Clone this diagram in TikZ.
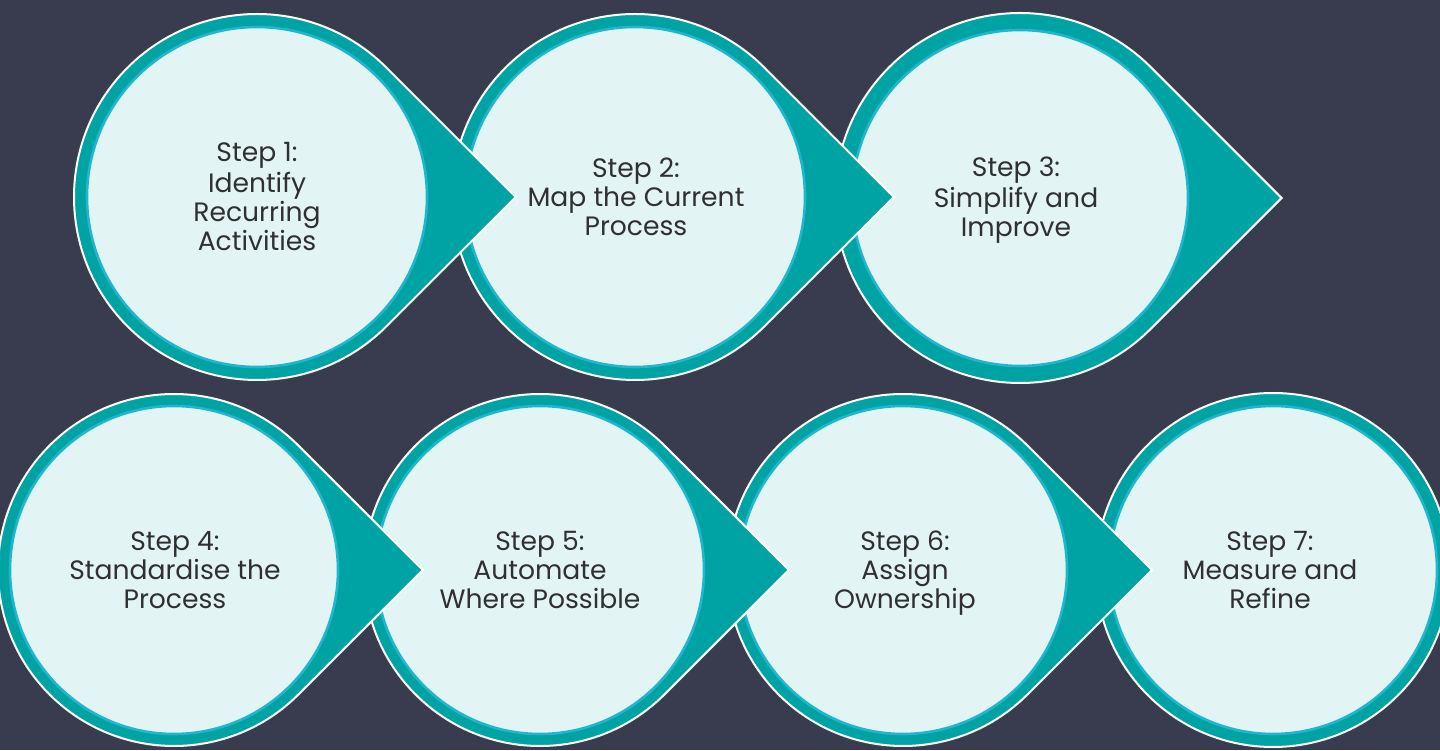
\documentclass[tikz,border=0pt]{standalone}
\usepackage{fontspec}
\setmainfont{Poppins}
\definecolor{bgc}{HTML}{393C4F}
\definecolor{stepteal}{HTML}{00A3A4}
\definecolor{ringline}{HTML}{1FB6CE}
\definecolor{discfill}{HTML}{E3F4F5}
\definecolor{txt}{HTML}{303030}

\tikzset{
  outerdrop/.style={fill=stepteal, draw=white, line width=1pt, line join=miter},
  innerdisc/.style={fill=discfill, draw=ringline, line width=1.3pt},
  steplabel/.style={align=center, text=txt, inner sep=0pt,
    font=\fontsize{13.3}{14.5}\selectfont}
}

% teardrop step: centre x, centre y, outer radius, inner radius
\newcommand\stepdrop[4]{%
  \path[outerdrop] ({#1+1.41421*#3},#2)
    -- ({#1+#3*cos(45)},{#2+#3*sin(45)})
    arc[start angle=45, end angle=315, radius=#3] -- cycle;
  \path[innerdisc] (#1,#2) circle[radius=#4];
}
% round final step
\newcommand\stepdisc[4]{%
  \path[outerdrop] (#1,#2) circle[radius=#3];
  \path[innerdisc] (#1,#2) circle[radius=#4];
}
% label with struts so every block centres on the same line metrics
\newcommand\steptext[4]{%
  \node[steplabel] (#3) at (#1,{#2-3.5}) {\strut #4\strut};
}

\begin{document}
\begin{tikzpicture}[x=0.5pt, y=0.5pt]
  \useasboundingbox (0,0) rectangle (1440,750);
  \fill[bgc] (0,0) rectangle (1440,750);

  % top row, drawn back to front
  \stepdrop{1020}{552}{185}{168}
  \steptext{1016}{553}{s3}{Step 3:\\Simplify and\\Improve}
  \stepdrop{635}{553}{183}{170}
  \steptext{636}{553}{s2}{Step 2:\\Map the Current\\Process}
  \stepdrop{257}{553}{183}{170}
  \steptext{257}{553}{s1}{Step 1:\\Identify\\Recurring\\Activities}

  % bottom row, drawn back to front
  \stepdisc{1273}{180}{177}{164}
  \steptext{1270}{180}{s7}{Step 7:\\Measure and\\Refine}
  \stepdrop{903}{180}{176}{164}
  \steptext{905}{180}{s6}{Step 6:\\Assign\\Ownership}
  \stepdrop{540}{180}{176}{164}
  \steptext{540}{180}{s5}{Step 5:\\Automate\\Where Possible}
  \stepdrop{174}{180}{176}{164}
  \steptext{175}{180}{s4}{Step 4:\\Standardise the\\Process}
\end{tikzpicture}
\end{document}
